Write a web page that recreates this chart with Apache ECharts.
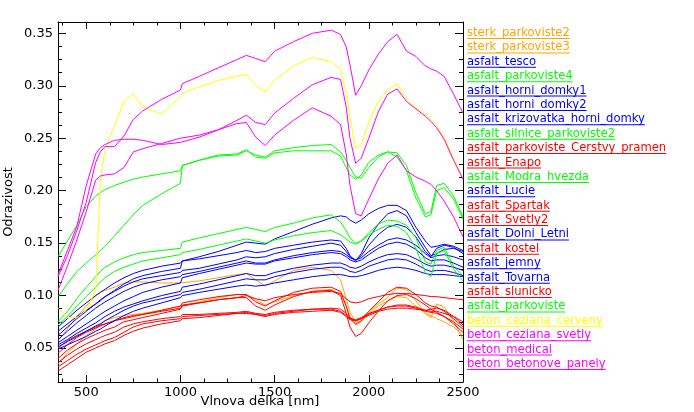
<!DOCTYPE html>
<html><head><meta charset="utf-8">
<script src="https://cdn.jsdelivr.net/npm/echarts@6/dist/echarts.min.js"></script>
<style>html,body{margin:0;padding:0;background:#fff}#c{width:694px;height:412px}</style>
</head><body><div id="c"></div>
<script>
// wavelength grid (nm)
const wavelengths = [350,400,450,500,550,575,600,650,700,750,800,900,1000,1010,1100,1200,1300,1350,1400,1450,1500,1600,1700,1800,1850,1880,1900,1930,1960,2000,2050,2100,2150,2200,2250,2300,2330,2360,2400,2450,2500];

const sterk_parkoviste2 = [0.057,0.068,0.080,0.090,0.100,0.103,0.105,0.108,0.112,0.113,0.113,0.112,0.112,0.113,0.114,0.117,0.120,0.121,0.115,0.109,0.114,0.124,0.127,0.124,0.115,0.097,0.084,0.075,0.078,0.085,0.092,0.098,0.107,0.106,0.095,0.083,0.079,0.092,0.089,0.076,0.058];
const sterk_parkoviste3 = [0.035,0.045,0.054,0.062,0.068,0.073,0.076,0.079,0.081,0.082,0.083,0.086,0.090,0.091,0.094,0.098,0.101,0.101,0.096,0.091,0.094,0.100,0.104,0.106,0.101,0.090,0.080,0.072,0.075,0.083,0.090,0.095,0.099,0.098,0.090,0.083,0.081,0.078,0.075,0.070,0.062];
const asfalt_tesco = [0.066,0.073,0.080,0.086,0.092,0.095,0.099,0.105,0.111,0.116,0.119,0.123,0.126,0.133,0.137,0.142,0.148,0.151,0.150,0.149,0.154,0.161,0.168,0.174,0.176,0.175,0.172,0.169,0.172,0.178,0.183,0.186,0.186,0.181,0.165,0.152,0.146,0.147,0.149,0.147,0.143];
const asfalt_parkoviste4 = [0.137,0.152,0.167,0.185,0.195,0.198,0.201,0.205,0.208,0.211,0.213,0.216,0.219,0.224,0.229,0.233,0.234,0.238,0.234,0.232,0.238,0.241,0.243,0.244,0.237,0.229,0.222,0.213,0.212,0.222,0.232,0.237,0.236,0.224,0.198,0.178,0.180,0.205,0.207,0.195,0.175];
const asfalt_horni_domky1 = [0.070,0.078,0.086,0.093,0.100,0.103,0.106,0.112,0.117,0.121,0.124,0.128,0.131,0.133,0.135,0.138,0.141,0.143,0.141,0.142,0.145,0.148,0.151,0.153,0.152,0.145,0.138,0.133,0.140,0.155,0.168,0.178,0.181,0.176,0.160,0.146,0.138,0.140,0.144,0.145,0.142];
const asfalt_horni_domky2 = [0.062,0.070,0.078,0.085,0.092,0.096,0.099,0.104,0.109,0.113,0.116,0.119,0.122,0.124,0.126,0.130,0.134,0.137,0.136,0.137,0.140,0.144,0.147,0.150,0.148,0.142,0.137,0.134,0.138,0.148,0.158,0.165,0.168,0.165,0.156,0.142,0.137,0.145,0.148,0.146,0.140];
const asfalt_krizovatka_horni_domky = [0.058,0.066,0.074,0.081,0.088,0.091,0.094,0.099,0.104,0.108,0.111,0.115,0.118,0.120,0.123,0.127,0.131,0.133,0.131,0.131,0.134,0.138,0.141,0.143,0.142,0.139,0.136,0.134,0.136,0.142,0.148,0.153,0.155,0.153,0.148,0.140,0.136,0.138,0.139,0.137,0.134];
const asfalt_silnice_parkoviste2 = [0.099,0.111,0.123,0.131,0.139,0.143,0.147,0.157,0.167,0.177,0.186,0.197,0.207,0.224,0.229,0.234,0.235,0.239,0.232,0.231,0.236,0.238,0.238,0.238,0.233,0.222,0.215,0.211,0.215,0.227,0.234,0.237,0.232,0.219,0.193,0.175,0.177,0.200,0.203,0.192,0.173];
const asfalt_parkoviste_Cerstvy_pramen = [0.050,0.057,0.062,0.066,0.070,0.072,0.073,0.076,0.079,0.081,0.082,0.085,0.088,0.091,0.093,0.096,0.098,0.100,0.097,0.095,0.098,0.101,0.103,0.104,0.102,0.097,0.094,0.093,0.094,0.097,0.099,0.101,0.102,0.102,0.101,0.100,0.099,0.099,0.098,0.097,0.096];
const asfalt_Enapo = [0.045,0.053,0.060,0.065,0.069,0.071,0.073,0.076,0.078,0.080,0.082,0.086,0.090,0.093,0.096,0.099,0.101,0.101,0.094,0.090,0.095,0.103,0.107,0.108,0.104,0.090,0.078,0.073,0.076,0.085,0.094,0.103,0.108,0.107,0.101,0.093,0.090,0.089,0.085,0.078,0.070];
const asfalt_Modra_hvezda = [0.075,0.085,0.097,0.108,0.118,0.123,0.127,0.132,0.136,0.139,0.141,0.143,0.145,0.151,0.155,0.159,0.163,0.165,0.163,0.161,0.165,0.169,0.174,0.177,0.170,0.162,0.155,0.150,0.152,0.160,0.168,0.172,0.171,0.167,0.155,0.132,0.130,0.143,0.146,0.128,0.119];
const asfalt_Lucie = [0.055,0.061,0.067,0.073,0.079,0.082,0.085,0.090,0.095,0.099,0.103,0.108,0.112,0.117,0.121,0.125,0.129,0.131,0.130,0.130,0.133,0.136,0.139,0.141,0.140,0.137,0.134,0.132,0.134,0.139,0.145,0.149,0.151,0.149,0.144,0.136,0.133,0.134,0.134,0.131,0.127];
const asfalt_Spartak = [0.040,0.048,0.054,0.059,0.063,0.065,0.067,0.070,0.075,0.077,0.079,0.083,0.087,0.090,0.093,0.096,0.098,0.098,0.090,0.086,0.091,0.099,0.104,0.105,0.100,0.083,0.070,0.061,0.064,0.074,0.085,0.095,0.100,0.101,0.097,0.091,0.087,0.084,0.080,0.073,0.065];
const asfalt_Svetly2 = [0.036,0.043,0.049,0.054,0.058,0.060,0.062,0.065,0.070,0.073,0.075,0.078,0.080,0.082,0.082,0.083,0.084,0.085,0.083,0.082,0.084,0.086,0.087,0.088,0.087,0.083,0.079,0.076,0.078,0.082,0.086,0.089,0.091,0.091,0.089,0.086,0.085,0.085,0.083,0.080,0.075];
const asfalt_Dolni_Letni = [0.053,0.058,0.064,0.069,0.074,0.077,0.080,0.085,0.089,0.092,0.095,0.100,0.104,0.108,0.111,0.115,0.119,0.121,0.119,0.119,0.122,0.126,0.129,0.131,0.131,0.129,0.127,0.126,0.128,0.132,0.136,0.139,0.140,0.139,0.135,0.130,0.128,0.129,0.129,0.127,0.124];
const asfalt_kostel = [0.032,0.038,0.044,0.049,0.053,0.055,0.057,0.060,0.065,0.070,0.073,0.076,0.078,0.080,0.081,0.082,0.083,0.084,0.082,0.080,0.082,0.084,0.085,0.086,0.084,0.080,0.077,0.076,0.078,0.081,0.085,0.087,0.088,0.088,0.087,0.086,0.087,0.088,0.086,0.080,0.072];
const asfalt_jemny = [0.051,0.056,0.061,0.066,0.071,0.073,0.076,0.081,0.086,0.090,0.093,0.097,0.101,0.103,0.106,0.110,0.114,0.116,0.115,0.115,0.118,0.122,0.125,0.127,0.127,0.125,0.123,0.122,0.124,0.128,0.131,0.134,0.135,0.134,0.130,0.125,0.123,0.124,0.124,0.122,0.119];
const asfalt_Tovarna = [0.049,0.053,0.057,0.061,0.066,0.068,0.071,0.076,0.081,0.085,0.088,0.093,0.098,0.100,0.103,0.106,0.109,0.110,0.109,0.110,0.112,0.115,0.118,0.120,0.120,0.119,0.118,0.118,0.119,0.121,0.124,0.126,0.127,0.126,0.124,0.121,0.120,0.120,0.120,0.119,0.118];
const asfalt_slunicko = [0.028,0.034,0.040,0.046,0.050,0.052,0.054,0.057,0.062,0.066,0.069,0.073,0.076,0.078,0.079,0.081,0.083,0.083,0.082,0.081,0.083,0.085,0.087,0.087,0.085,0.081,0.078,0.077,0.079,0.083,0.086,0.089,0.090,0.090,0.088,0.085,0.084,0.083,0.080,0.075,0.068];
const asfalt_parkoviste = [0.072,0.080,0.090,0.099,0.108,0.113,0.117,0.123,0.127,0.130,0.133,0.136,0.139,0.141,0.144,0.148,0.152,0.154,0.152,0.150,0.153,0.157,0.160,0.162,0.158,0.154,0.151,0.149,0.152,0.158,0.163,0.167,0.166,0.160,0.145,0.122,0.118,0.140,0.143,0.125,0.114];
const beton_ceziana_cerveny = [0.088,0.079,0.079,0.086,0.105,0.210,0.240,0.262,0.285,0.292,0.280,0.273,0.290,0.293,0.299,0.305,0.309,0.311,0.300,0.294,0.305,0.319,0.327,0.323,0.316,0.293,0.270,0.240,0.244,0.265,0.285,0.296,0.302,0.287,0.279,0.273,0.268,0.262,0.251,0.231,0.212];
const beton_ceziana_svetly = [0.120,0.143,0.166,0.205,0.235,0.241,0.244,0.248,0.249,0.249,0.248,0.244,0.246,0.247,0.251,0.258,0.267,0.272,0.265,0.263,0.274,0.288,0.301,0.308,0.306,0.280,0.250,0.226,0.231,0.250,0.275,0.292,0.297,0.285,0.278,0.271,0.266,0.260,0.249,0.229,0.211];
const beton_medical = [0.105,0.128,0.153,0.180,0.210,0.214,0.215,0.216,0.222,0.237,0.240,0.245,0.250,0.250,0.253,0.258,0.264,0.265,0.251,0.243,0.253,0.267,0.279,0.271,0.263,0.235,0.205,0.178,0.176,0.192,0.211,0.226,0.234,0.219,0.213,0.209,0.206,0.200,0.190,0.175,0.156];
const beton_betonove_panely = [0.118,0.138,0.162,0.189,0.227,0.237,0.242,0.242,0.252,0.268,0.276,0.287,0.296,0.302,0.309,0.317,0.325,0.329,0.326,0.323,0.333,0.342,0.350,0.353,0.349,0.337,0.320,0.291,0.300,0.315,0.330,0.342,0.349,0.333,0.328,0.319,0.316,0.314,0.309,0.292,0.274];

const seriesNames = ['sterk_parkoviste2','sterk_parkoviste3','asfalt_tesco','asfalt_parkoviste4','asfalt_horni_domky1','asfalt_horni_domky2','asfalt_krizovatka_horni_domky','asfalt_silnice_parkoviste2','asfalt_parkoviste_Cerstvy_pramen','asfalt_Enapo','asfalt_Modra_hvezda','asfalt_Lucie','asfalt_Spartak','asfalt_Svetly2','asfalt_Dolni_Letni','asfalt_kostel','asfalt_jemny','asfalt_Tovarna','asfalt_slunicko','asfalt_parkoviste','beton_ceziana_cerveny','beton_ceziana_svetly','beton_medical','beton_betonove_panely'];
const seriesValues = [sterk_parkoviste2,sterk_parkoviste3,asfalt_tesco,asfalt_parkoviste4,asfalt_horni_domky1,asfalt_horni_domky2,asfalt_krizovatka_horni_domky,asfalt_silnice_parkoviste2,asfalt_parkoviste_Cerstvy_pramen,asfalt_Enapo,asfalt_Modra_hvezda,asfalt_Lucie,asfalt_Spartak,asfalt_Svetly2,asfalt_Dolni_Letni,asfalt_kostel,asfalt_jemny,asfalt_Tovarna,asfalt_slunicko,asfalt_parkoviste,beton_ceziana_cerveny,beton_ceziana_svetly,beton_medical,beton_betonove_panely];

const xTickLabels = [500,1000,1500,2000,2500];
const yTickLabels = [0.05,0.10,0.15,0.20,0.25,0.30,0.35];
const xTitle = 'Vlnova delka [nm]';
const yTitle = 'Odrazivost';
</script>
<script>
const ORANGE='#FFA500', BLUE='#0000FF', GREEN='#00FF00', RED='#FF0000', YELLOW='#FFFF00', MAGENTA='#FF00FF';
const seriesColors = [ORANGE,ORANGE,BLUE,GREEN,BLUE,BLUE,BLUE,GREEN,RED,RED,GREEN,BLUE,RED,RED,BLUE,RED,BLUE,BLUE,RED,GREEN,YELLOW,MAGENTA,MAGENTA,MAGENTA];

const XMIN=350, XMAX=2500, YMIN=0.0176, YMAX=0.3608;
const xMinor=[]; for(let v=375; v<=XMAX; v+=125) xMinor.push(v);
const yMinor=[]; for(let k=2; k*0.0125<=YMAX; k++) yMinor.push(+(k*0.0125).toFixed(4));

const FONT='DejaVu Sans';
const LEGEND_FONT='11.6px "' + FONT + '"';
function xAx(pos, major, showLabel){
  return {type:'value', position:pos, min:XMIN, max:XMAX, gridIndex:0,
    axisLine:{show:major, onZero:false, lineStyle:{color:'#000', width:1}},
    axisTick:{show:true, inside:true, length: major?7:3.5, customValues: major?xTickLabels:xMinor, lineStyle:{color:'#000', width:1}},
    axisLabel:{show:showLabel, customValues:xTickLabels, color:'#000', fontSize:13, fontFamily:FONT, margin:4, formatter:v=>String(v)},
    splitLine:{show:false}};
}
function yAx(pos, major, showLabel){
  return {type:'value', position:pos, min:YMIN, max:YMAX, gridIndex:0,
    axisLine:{show:major, onZero:false, lineStyle:{color:'#000', width:1}},
    axisTick:{show:true, inside:true, length: major?8:4, customValues: major?yTickLabels:yMinor, lineStyle:{color:'#000', width:1}},
    axisLabel:{show:showLabel, customValues:yTickLabels, color:'#000', fontSize:13, fontFamily:FONT, margin:5, formatter:v=>v.toFixed(2)},
    splitLine:{show:false}};
}

const chart = echarts.init(document.getElementById('c'), null, {renderer:'canvas'});

const ctx = document.createElement('canvas').getContext('2d');
ctx.font = LEGEND_FONT;
const graphics = [];
seriesNames.forEach((name,i)=>{
  const cy = 33 + i*14.39;
  const w = ctx.measureText(name).width;
  graphics.push({type:'text', x:467, y:cy, style:{text:name, fill:seriesColors[i], font:LEGEND_FONT, verticalAlign:'middle', align:'left'}});
  graphics.push({type:'rect', x:467, y:cy+5, shape:{x:0,y:0,width:w,height:1}, style:{fill:seriesColors[i]}});
});
graphics.push({type:'text', x:260, y:402, style:{text:xTitle, fill:'#000', font:'13px "'+FONT+'"', align:'center', verticalAlign:'middle'}});
graphics.push({type:'text', x:9, y:202, rotation:Math.PI/2, style:{text:yTitle, fill:'#000', font:'13px "'+FONT+'"', align:'center', verticalAlign:'middle'}});

chart.setOption({
  animation:false,
  backgroundColor:'#fff',
  grid:{left:58, top:22, right:231, bottom:30, containLabel:false, outerBoundsMode:'none'},
  xAxis:[ xAx('bottom', true, true), xAx('bottom', false, false), xAx('top', true, false), xAx('top', false, false) ],
  yAxis:[ yAx('left', true, true), yAx('left', false, false), yAx('right', true, false), yAx('right', false, false) ],
  series: seriesNames.map((name,i)=>({
    name, type:'line', xAxisIndex:0, yAxisIndex:0, showSymbol:false, symbol:'none', silent:true,
    lineStyle:{color:seriesColors[i], width:1}, itemStyle:{color:seriesColors[i]},
    data: wavelengths.map((w,j)=>[w, seriesValues[i][j]])
  })),
  graphic: graphics
});
</script>
</body></html>
